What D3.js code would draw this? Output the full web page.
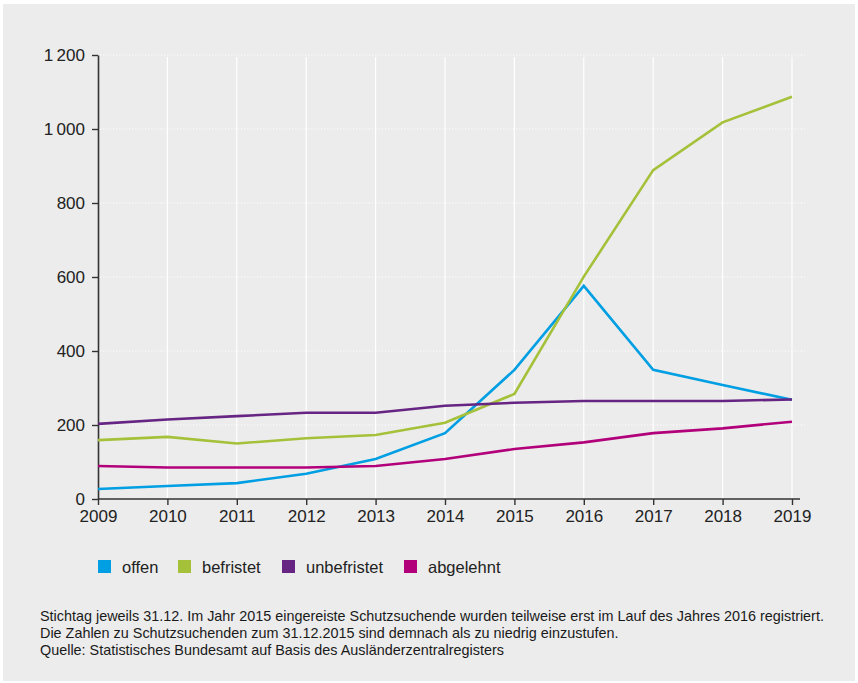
<!DOCTYPE html>
<html>
<head>
<meta charset="utf-8">
<script src="https://cdn.jsdelivr.net/npm/d3@7"></script>
<style>
    body { margin: 0; background: #ffffff; }
    svg { display: block; font-family: "Liberation Sans", Arial, sans-serif; }
</style>
</head>
<body>
<div id="chart"></div>
<script>
const years = [2009, 2010, 2011, 2012, 2013, 2014, 2015, 2016, 2017, 2018, 2019];
const offen = [27, 35, 43, 68, 108, 178, 349, 576, 349, 308, 268];
const befristet = [159, 168, 150, 164, 173, 206, 284, 601, 889, 1018, 1087];
const unbefristet = [203, 215, 224, 233, 233, 252, 260, 265, 265, 265, 269];
const abgelehnt = [89, 85, 85, 85, 89, 108, 135, 153, 178, 191, 209];
const yTicks = [0, 200, 400, 600, 800, 1000, 1200];
const seriesNames = ["offen", "befristet", "unbefristet", "abgelehnt"];
const seriesColors = ["#009fe3", "#a5c13a", "#662483", "#b2007b"];
const notes = [
    "Stichtag jeweils 31.12. Im Jahr 2015 eingereiste Schutzsuchende wurden teilweise erst im Lauf des Jahres 2016 registriert.",
    "Die Zahlen zu Schutzsuchenden zum 31.12.2015 sind demnach als zu niedrig einzustufen.",
    "Quelle: Statistisches Bundesamt auf Basis des Ausländerzentralregisters"
];

const width = 858;
const height = 683;
const series = [offen, befristet, unbefristet, abgelehnt];

const svg = d3.select("#chart")
    .append("svg")
    .attr("width", width)
    .attr("height", height);

// Hintergrund
svg.append("rect")
    .attr("x", 3).attr("y", 4)
    .attr("width", width - 6).attr("height", height - 6)
    .attr("fill", "#ececec");

const x = d3.scaleLinear().domain([2009, 2019]).range([98, 792]);
const y = d3.scaleLinear().domain([0, 1200]).range([499, 55]);

// Gitter
svg.append("g")
    .selectAll("line")
    .data(years.slice(1))
    .enter()
    .append("line")
    .attr("x1", d => x(d)).attr("x2", d => x(d))
    .attr("y1", 57).attr("y2", 499)
    .attr("stroke", "#ffffff")
    .attr("stroke-width", 1.2);

svg.append("g")
    .selectAll("line")
    .data(yTicks.slice(1))
    .enter()
    .append("line")
    .attr("x1", 100).attr("x2", 805)
    .attr("y1", d => y(d)).attr("y2", d => y(d))
    .attr("stroke", "#ffffff")
    .attr("stroke-width", 1.2)
    .attr("stroke-dasharray", "1.2,2");

// Achsen
const xAxis = svg.append("g")
    .attr("transform", `translate(0,${y(0)})`)
    .call(d3.axisBottom(x).tickValues(years).tickFormat(d3.format("d")).tickSize(6).tickSizeOuter(0));
xAxis.select(".domain").attr("d", `M${x(2009)},0H800`);

const yAxis = svg.append("g")
    .attr("transform", `translate(${x(2009)},0)`)
    .call(d3.axisLeft(y).tickValues(yTicks)
        .tickFormat(d => d >= 1000 ? d3.format(",")(d).replace(",", "\u2009") : d)
        .tickSize(6).tickSizeOuter(0));

[xAxis, yAxis].forEach(a => {
    a.select(".domain").attr("stroke", "#333").attr("stroke-width", 1.6);
    a.selectAll(".tick line").attr("stroke", "#333").attr("stroke-width", 1.4);
    a.selectAll(".tick text").attr("fill", "#222").attr("font-size", "17px");
});
xAxis.selectAll(".tick text").attr("dy", "0.85em");
yAxis.selectAll(".tick text").attr("x", -13);

// Linien
const line = d3.line()
    .x((d, i) => x(years[i]))
    .y(d => y(d));

svg.append("g")
    .selectAll("path")
    .data(series)
    .enter()
    .append("path")
    .attr("d", d => line(d))
    .attr("fill", "none")
    .attr("stroke", (d, i) => seriesColors[i])
    .attr("stroke-width", 2.6)
    .attr("stroke-linejoin", "miter");

// Legende
const legendX = [98, 178, 282, 404];
const legend = svg.append("g")
    .selectAll("g")
    .data(seriesNames)
    .enter()
    .append("g")
    .attr("transform", (d, i) => `translate(${legendX[i]},560)`);

legend.append("rect")
    .attr("width", 13).attr("height", 13)
    .attr("fill", (d, i) => seriesColors[i]);

legend.append("text")
    .attr("x", 24).attr("y", 12.5)
    .attr("font-size", "16.5px")
    .attr("fill", "#222")
    .text(d => d);

// Fußnoten
svg.append("g")
    .selectAll("text")
    .data(notes)
    .enter()
    .append("text")
    .attr("x", 40)
    .attr("y", (d, i) => 621 + i * 17)
    .attr("font-size", "14.4px")
    .attr("fill", "#1a1a1a")
    .text(d => d);
</script>
</body>
</html>
